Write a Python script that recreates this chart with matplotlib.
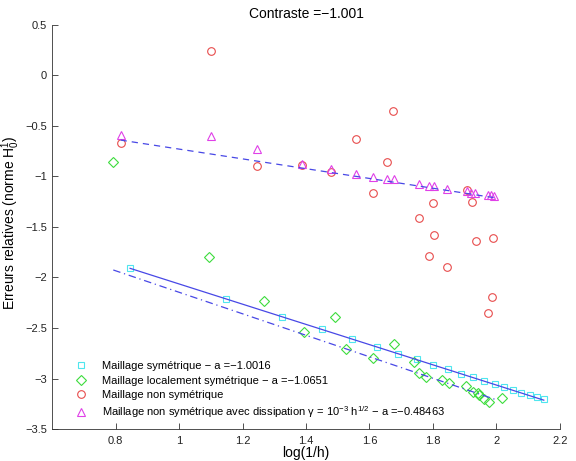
import numpy as np
import matplotlib.pyplot as plt
from matplotlib.ticker import FuncFormatter

plt.rcParams['font.family'] = ['Liberation Sans', 'DejaVu Sans']
plt.rcParams['mathtext.fontset'] = 'custom'
plt.rcParams['mathtext.rm'] = 'Liberation Sans'
plt.rcParams['mathtext.it'] = 'Liberation Sans:italic'

# Maillage symetrique
x_sym = [0.846, 1.147, 1.324, 1.449, 1.546, 1.625, 1.691, 1.749, 1.801, 1.848,
         1.888, 1.926, 1.961, 1.994, 2.024, 2.051, 2.078, 2.104, 2.127, 2.149]
y_sym = [-1.909, -2.213, -2.388, -2.513, -2.612, -2.685, -2.757, -2.810, -2.866, -2.909,
         -2.952, -2.988, -3.025, -3.058, -3.087, -3.114, -3.140, -3.163, -3.186, -3.206]

# Maillage localement symetrique
x_loc = [0.792, 1.093, 1.268, 1.393, 1.490, 1.525, 1.610, 1.676, 1.739, 1.756,
         1.779, 1.827, 1.849, 1.903, 1.927, 1.942, 1.944, 1.960, 1.975, 2.018]
y_loc = [-0.856, -1.794, -2.233, -2.537, -2.388, -2.705, -2.797, -2.662, -2.837, -2.946,
         -2.988, -3.018, -3.048, -3.071, -3.134, -3.141, -3.163, -3.203, -3.233, -3.190]

# Maillage non symetrique
x_non = [0.816, 1.101, 1.246, 1.386, 1.480, 1.556, 1.610, 1.655, 1.675, 1.757,
         1.788, 1.801, 1.803, 1.844, 1.906, 1.923, 1.934, 1.973, 1.985, 1.990]
y_non = [-0.665, 0.246, -0.896, -0.889, -0.958, -0.632, -1.160, -0.853, -0.349, -1.411,
         -1.784, -1.262, -1.579, -1.893, -1.134, -1.249, -1.636, -2.354, -2.196, -1.609]

# Maillage non symetrique avec dissipation
x_dis = [0.816, 1.101, 1.246, 1.386, 1.480, 1.556, 1.610, 1.656, 1.676, 1.757,
         1.786, 1.802, 1.843, 1.906, 1.921, 1.933, 1.973, 1.984, 1.991]
y_dis = [-0.589, -0.599, -0.725, -0.876, -0.923, -0.975, -1.005, -1.028, -1.022, -1.077,
         -1.094, -1.094, -1.127, -1.147, -1.160, -1.163, -1.186, -1.186, -1.193]

# droites de regression (pente, ordonnee a l'origine, x debut/fin)
a_sym, b_sym = -1.0016, -1.062
a_loc, b_loc = -1.0651, -1.081
a_dis, b_dis = -0.48463, -0.244
x_fit_loc = [0.793, 2.002]

c_cyan = '#4fe6ee'
c_green = '#3ddc3d'
c_red = '#e84c4c'
c_mag = '#e040e8'
c_blue = '#4848e6'

fig = plt.figure(figsize=(5.76, 4.61), dpi=100)
ax = fig.add_axes([0.0903, 0.0694, 0.8819, 0.8764])

ms = 5.5
lw = 0.8
ax.plot(x_sym, y_sym, 's', ls='none', mfc='none', mec=c_cyan, ms=ms - 0.5, mew=lw,
        label='Maillage symétrique − a =−1.0016')
ax.plot(x_loc, y_loc, 'D', ls='none', mfc='none', mec=c_green, ms=ms - 0.8, mew=lw,
        label='Maillage localement symétrique − a =−1.0651')
ax.plot(x_non, y_non, 'o', ls='none', mfc='none', mec=c_red, ms=ms, mew=lw,
        label='Maillage non symétrique')
ax.plot(x_dis, y_dis, '^', ls='none', mfc='none', mec=c_mag, ms=ms + 0.5, mew=lw,
        label='Maillage non symétrique avec dissipation γ = 10$^{-3}$ h$^{1/2}$ − a =−0.48463')

xs = np.array([x_sym[0], x_sym[-1]])
ax.plot(xs, a_sym * xs + b_sym, '-', color=c_blue, lw=0.9)
xl = np.array(x_fit_loc)
ax.plot(xl, a_loc * xl + b_loc, '-.', color=c_blue, lw=0.9, dashes=[6, 3, 1, 3])
xd = np.array([x_dis[0], x_dis[-1]])
ax.plot(xd, a_dis * xd + b_dis, '--', color=c_blue, lw=0.9, dashes=[5, 4])

ax.set_xlim(0.6, 2.2)
ax.set_ylim(-3.5, 0.5)
ax.set_xticks(np.arange(0.8, 2.21, 0.2))
ax.set_yticks(np.arange(-3.5, 0.51, 0.5))
fmt = FuncFormatter(lambda v, p: ('%g' % round(v, 2)).replace('-', '−'))
ax.xaxis.set_major_formatter(fmt)
ax.yaxis.set_major_formatter(fmt)
ax.tick_params(direction='in', length=4, width=0.6, labelsize=8, color='#333333',
               labelcolor='#222222')
ax.tick_params(axis='x', pad=5)
ax.tick_params(axis='y', pad=3.5)
for s in ['top', 'right']:
    ax.spines[s].set_visible(False)
for s in ['left', 'bottom']:
    ax.spines[s].set_linewidth(0.6)
    ax.spines[s].set_color('#333333')

ax.set_xlabel('log(1/h)', fontsize=10)
ax.set_ylabel('Erreurs relatives (norme H$^1_0$)', fontsize=10)
ax.xaxis.set_label_coords(0.5, -0.042)
ax.yaxis.set_label_coords(-0.059, 0.51)
ax.set_title('Contraste =−1.001', fontsize=10, pad=5)

ax.legend(loc='lower left', bbox_to_anchor=(0.025, -0.002), frameon=False, fontsize=8,
          handletextpad=1.3, labelspacing=0.38, handlelength=1.2)

fig.savefig('out.png', dpi=100)
